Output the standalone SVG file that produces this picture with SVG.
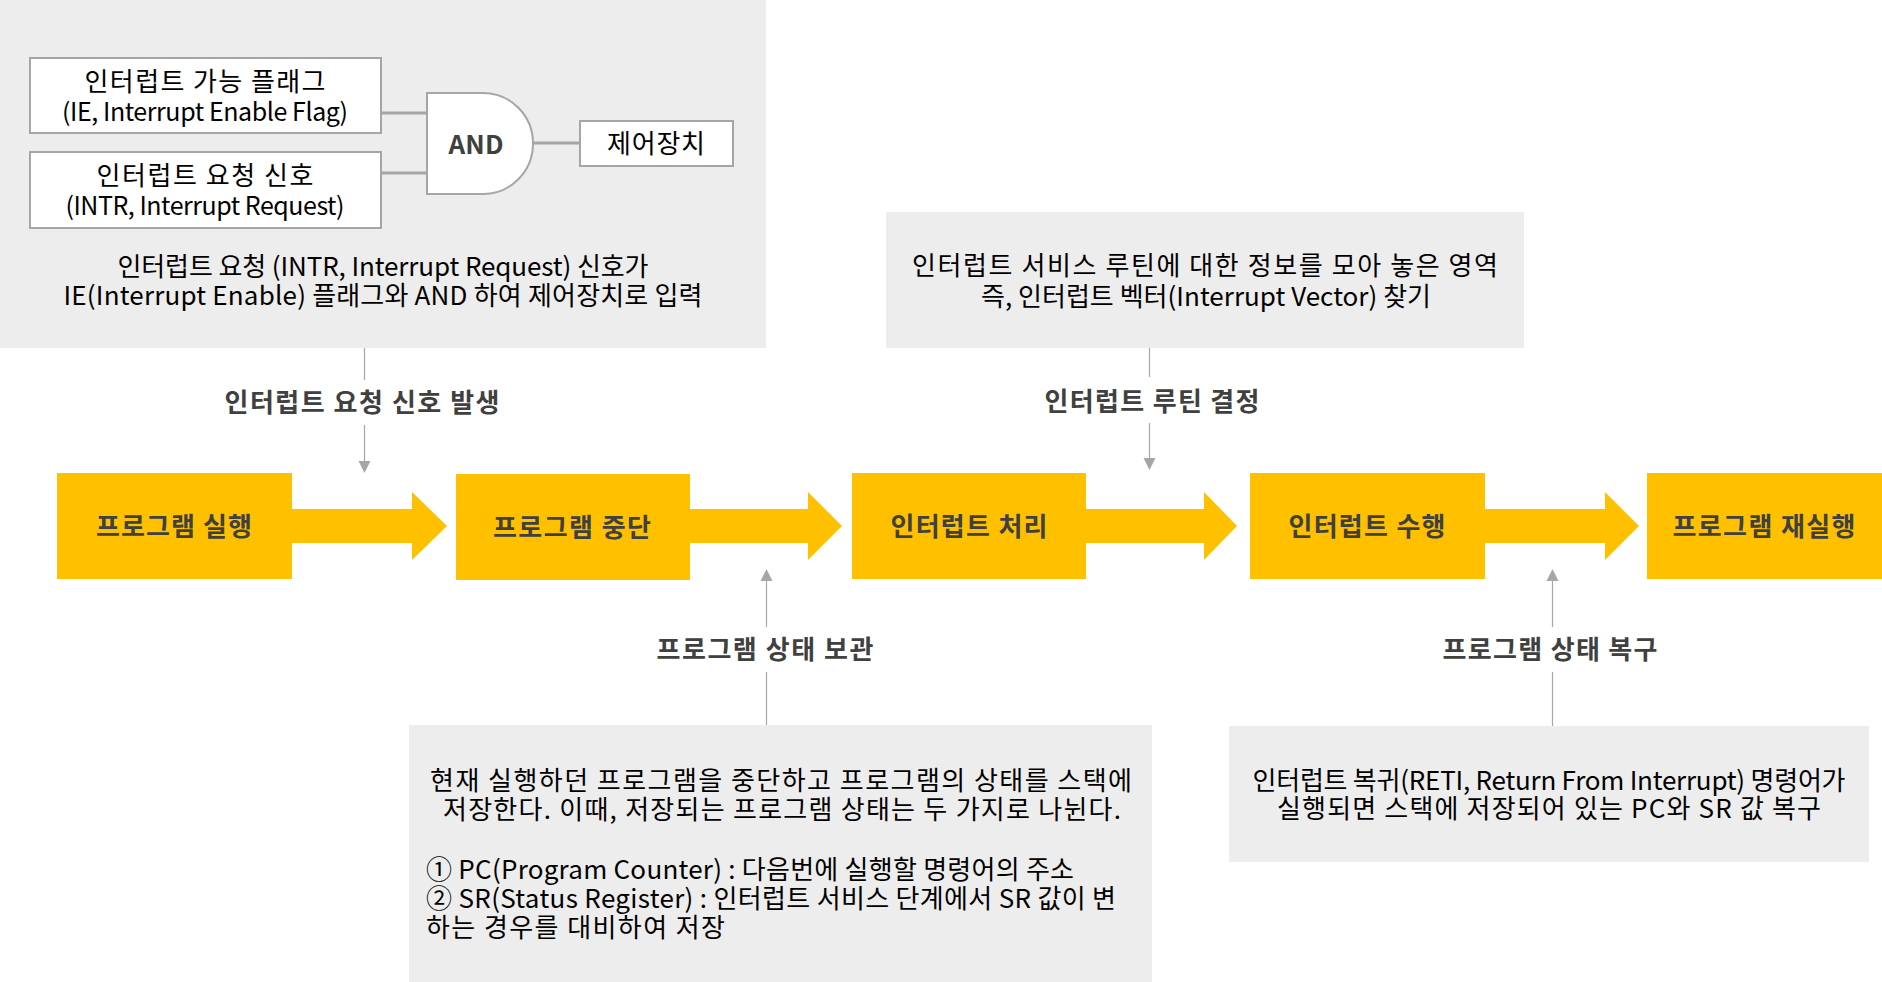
<svg xmlns="http://www.w3.org/2000/svg" width="1882" height="982" viewBox="0 0 1882 982">
<defs>
<style>
text{font-family:"Noto Sans CJK KR","Noto Sans",sans-serif;font-size:26px;dominant-baseline:central;text-anchor:middle}
.t{fill:#000}
.b{font-weight:bold;fill:#404040}
.l{text-anchor:start}
.s{font-size:25px}
.panel{fill:#ededed}
.box{fill:#fff;stroke:#a6a6a6;stroke-width:2}
.wire{stroke:#a6a6a6;stroke-width:3;fill:none}
.con{stroke:#a6a6a6;stroke-width:1.2;fill:none}
.ah{fill:#a6a6a6}
.y{fill:#ffc000}
</style>
</defs>
<g id="panel-and">
<rect class="panel" x="0" y="0" width="766" height="348"/>
<rect class="box" x="30" y="58" width="351" height="75"/>
<text class="t"><tspan x="205" y="79" textLength="241">인터럽트 가능 플래그</tspan><tspan class="s" x="205" y="110" textLength="286">(IE, Interrupt Enable Flag)</tspan></text>
<rect class="box" x="30" y="152" width="351" height="76"/>
<text class="t"><tspan x="205" y="173" textLength="217">인터럽트 요청 신호</tspan><tspan class="s" x="205" y="204" textLength="279">(INTR, Interrupt Request)</tspan></text>
<path class="wire" d="M381,113 H427 M381,173 H427 M533,143 H580"/>
<path class="box" d="M427,93 H483 A50,50.5 0 0 1 483,194 H427 Z"/>
<text class="b" x="476" y="142" textLength="55">AND</text>
<rect class="box" x="580" y="121" width="153" height="45"/>
<text class="t" x="656" y="141" textLength="98">제어장치</text>
<text class="t"><tspan x="383" y="264" textLength="531">인터럽트 요청 (INTR, Interrupt Request) 신호가</tspan><tspan x="383" y="293" textLength="639">IE(Interrupt Enable) 플래그와 AND 하여 제어장치로 입력</tspan></text>
</g>
<g id="panel-vector">
<rect class="panel" x="886" y="212" width="638" height="136"/>
<text class="t"><tspan x="1205" y="263" textLength="586">인터럽트 서비스 루틴에 대한 정보를 모아 놓은 영역</tspan><tspan x="1206" y="294" textLength="450">즉, 인터럽트 벡터(Interrupt Vector) 찾기</tspan></text>
</g>
<g id="panel-save">
<rect class="panel" x="409" y="725" width="743" height="257"/>
<text class="t"><tspan x="781" y="778" textLength="702">현재 실행하던 프로그램을 중단하고 프로그램의 상태를 스택에</tspan><tspan x="782" y="807" textLength="678">저장한다. 이때, 저장되는 프로그램 상태는 두 가지로 나뉜다.</tspan></text>
<text class="t l"><tspan x="426" y="867" textLength="648">① PC(Program Counter) : 다음번에 실행할 명령어의 주소</tspan><tspan x="426" y="896" textLength="690">② SR(Status Register) : 인터럽트 서비스 단계에서 SR 값이 변</tspan><tspan x="426" y="925" textLength="299">하는 경우를 대비하여 저장</tspan></text>
</g>
<g id="panel-restore">
<rect class="panel" x="1229" y="726" width="640" height="136"/>
<text class="t"><tspan x="1549" y="778" textLength="593">인터럽트 복귀(RETI, Return From Interrupt) 명령어가</tspan><tspan x="1549" y="806" textLength="544">실행되면 스택에 저장되어 있는 PC와 SR 값 복구</tspan></text>
</g>
<g id="step1"><rect class="y" x="57" y="473" width="235" height="106"/><text class="b" x="174" y="524" textLength="156">프로그램 실행</text></g>
<g id="step2"><rect class="y" x="456" y="474" width="234" height="106"/><text class="b" x="572" y="525" textLength="158">프로그램 중단</text></g>
<g id="step3"><rect class="y" x="852" y="473" width="234" height="106"/><text class="b" x="969" y="524" textLength="157">인터럽트 처리</text></g>
<g id="step4"><rect class="y" x="1250" y="473" width="235" height="106"/><text class="b" x="1367" y="524" textLength="157">인터럽트 수행</text></g>
<g id="step5"><rect class="y" x="1647" y="473" width="235" height="106"/><text class="b" x="1764" y="524" textLength="183">프로그램 재실행</text></g>
<g id="connectors">
<polygon class="y" points="292,509 412,509 412,492 447,526 412,560 412,543 292,543"/>
<polygon class="y" points="690,509 808,509 808,492 842,526 808,560 808,543 690,543"/>
<polygon class="y" points="1086,509 1204,509 1204,492 1237,526 1204,560 1204,543 1086,543"/>
<polygon class="y" points="1485,509 1605,509 1605,492 1639,526 1605,560 1605,543 1485,543"/>
<path class="con" d="M364.5,348 V380 M364.5,425 V462"/>
<polygon class="ah" points="358.5,461 370.5,461 364.5,473"/>
<text class="b" x="362" y="400" textLength="275">인터럽트 요청 신호 발생</text>
<path class="con" d="M1149.5,348 V377 M1149.5,423 V459"/>
<polygon class="ah" points="1143.5,458 1155.5,458 1149.5,470"/>
<text class="b" x="1152" y="399" textLength="215">인터럽트 루틴 결정</text>
<path class="con" d="M766.5,580 V627 M766.5,672 V725"/>
<polygon class="ah" points="760.5,581 772.5,581 766.5,569"/>
<text class="b" x="765" y="647" textLength="217">프로그램 상태 보관</text>
<path class="con" d="M1552.5,580 V627 M1552.5,672 V726"/>
<polygon class="ah" points="1546.5,581 1558.5,581 1552.5,569"/>
<text class="b" x="1550" y="647" textLength="215">프로그램 상태 복구</text>
</g>
</svg>
